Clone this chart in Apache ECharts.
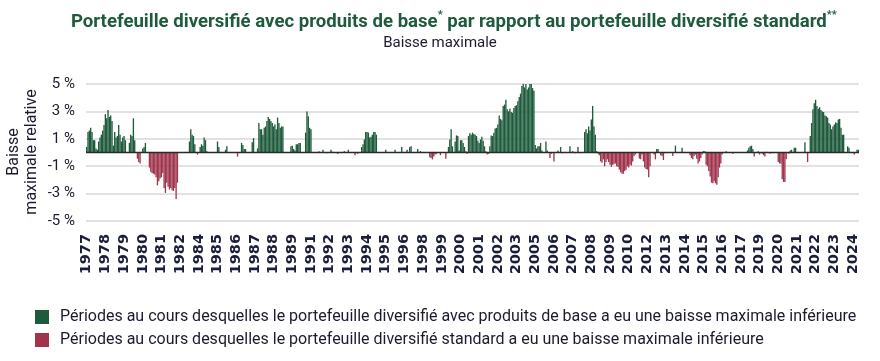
<!DOCTYPE html>
<html><head><meta charset="utf-8">
<script src="https://cdn.jsdelivr.net/npm/echarts@6/dist/echarts.min.js"></script>
<style>html,body{margin:0;padding:0;background:#fff}#c{width:880px;height:361px}</style>
</head><body><div id="c"></div>
<script>
// Monthly relative maximum drawdown (%), starting January 1977
const startYear = 1977;
const v1977_1984 = [
  0.4,1.5,1.6,1.8,1.5,0.9,0.9,0.3,0.2,0.8,1.1,1.3,
  1.6,2.0,2.8,2.5,3.1,2.6,2.7,2.3,0.5,1.5,1.1,1.2,
  2.0,1.3,0.8,1.1,1.2,0.9,0,0,0.7,1.3,1.2,2.5,
  0.9,0,-0.45,-0.7,-0.8,0,0.3,0.4,0.7,0,0,-1.1,
  -1.4,-1.5,-1.55,-1.6,-1.8,-2.4,-2.1,-1.9,-1.8,-1.5,-2.6,-2.95,
  -2.2,-2.5,-2.7,-2.6,-2.75,-2.8,-2.6,-3.4,-2.2,0,0,0,
  0,0,0,0,0,0.8,1.7,1.3,1.2,0.6,0,-0.15,
  0,0.4,0.6,0.5,1.1,0.9,0.1,0,0,0,0,0
];
const v1985_1992 = [
  0,0,0.8,0.4,0,0,0,0,0.2,0.45,0,0,
  0,0,0,0,0,-0.3,0,0,0.7,0.55,0.25,0.25,
  0,0,0,0,0.75,1.05,0,0,0.3,2.15,1.7,1.7,
  1.3,1.8,1.9,2.3,2.6,2.45,2.3,2.15,1.9,2.05,1.7,2.55,
  2.15,1.8,1.9,1.9,0,0,0,0,0,0.45,0.5,0.25,
  0.15,0.6,0.6,0.7,0.7,0,0,0,1.45,3.0,2.65,1.8,
  1.7,0,0,0,0,0,0.1,0,0,0.2,0,0,
  -0.05,0,0,0.2,0.05,0,0,0,-0.1,0,0,0
];
const v1993_2000 = [
  0,0.1,0,0,0.2,0,0,0,0,-0.2,0,-0.1,
  0,0,0.4,0.6,0.95,1.5,1.5,1.45,1.1,1.15,1.3,1.5,
  1.5,1.3,0,0,0,0,0,0,0.2,0,0,0,
  0,0,0,0.2,0,0,0,0,0.4,0,0,0,
  0.2,0,0.4,0.45,0,0,0,0,0.25,0,0.1,0,
  0,0,0,0,0,-0.35,-0.4,-0.5,-0.3,-0.15,-0.1,0,
  0,-0.2,0,0,0,-0.45,0,0.4,0.95,1.7,0.45,0,
  0.8,1.25,1.2,0.15,0.9,0.9,0.7,0.4,0.1,-0.1,1.2,1.4
];
const v2001_2008 = [
  1.3,1.45,1.35,1.3,1.2,0.85,0.7,0.95,1.15,0.85,0.45,0.1,
  -0.15,-0.1,0.45,1.25,1.2,1.45,1.75,1.8,2.05,2.7,2.45,2.35,
  3.4,3.5,3.85,3.15,3.0,3.2,2.95,2.9,3.25,3.4,3.45,3.75,
  4.05,4.3,4.85,5.05,4.75,5.0,4.6,4.75,5.1,5.2,4.7,4.5,
  0.55,0.3,0.45,0.45,0.7,0.15,0,0,0.8,0.15,0,-0.4,
  -0.1,0,-0.65,0,0,0.15,0,0.4,-0.05,0,0,0,
  0,0,0.45,0,0.1,0,-0.05,0,0.4,0,-0.05,0,
  0,1.5,1.7,1.4,1.9,1.6,2.4,3.4,1.9,1.3,0.1,-0.1
];
const v2009_2016 = [
  -0.2,-0.65,-0.75,-0.5,-1.0,-0.7,-0.5,-0.7,-0.9,-1.05,-0.9,-0.85,
  -0.8,-1.0,-1.05,-1.25,-1.45,-1.55,-1.55,-1.35,-1.25,-1.0,-1.1,-0.9,
  -0.95,-0.65,-0.25,-0.15,0,0,-0.45,-0.5,-0.15,-0.65,-1.1,-1.2,
  -1.25,-1.8,-1.0,0,0,-0.15,-0.5,0.25,0.25,0,-0.2,-0.25,
  -0.55,-0.05,0,-0.05,0,0,0,-0.25,0,0.5,0,0,
  0,0,0.35,0,0,0,0,0,-0.2,-0.4,-0.5,-0.25,
  -0.15,-0.45,-0.8,-0.65,-0.4,-0.15,0.1,0.1,-0.9,-1.0,-1.35,-1.75,
  -2.2,-2.25,-2.1,-2.25,-2.35,-1.8,-1.1,-0.8,-0.15,0,0,0.1
];
const v2017_2025 = [
  0,0,0,0,-0.1,0,0,0,0,0,0,0,
  0,0,0,0.15,0.35,0.45,0.5,0.25,-0.3,0,0,0.1,
  -0.15,0,-0.1,-0.2,-0.3,0.05,0,0,-0.1,0,-0.05,0,
  0,0,-0.7,-0.8,-0.8,-1.95,-2.15,-2.15,-0.5,0,-0.1,0.15,
  0.2,0,0.35,0.35,0,0,0,0,0,0,0.75,0,
  -0.7,0,1.2,2.15,3.15,3.6,3.85,3.4,3.2,3.3,3.1,3.0,
  2.95,2.7,2.65,2.55,2.15,2.05,1.7,1.9,2.05,2.2,2.15,2.4,
  2.45,1.8,1.3,1.3,0,0,0.45,0.35,0,0,0,-0.15,
  0,0.2,0.2
];
const values = [].concat(v1977_1984, v1985_1992, v1993_2000, v2001_2008, v2009_2016, v2017_2025);
const categories = values.map((v, i) => (startYear + Math.floor(i / 12)) + '-' + String(i % 12 + 1).padStart(2, '0'));
const yMin = -5, yMax = 5, yStep = 2;
const yAxisTitle = 'Baisse\nmaximale relative';
const seriesNames = [
  'Périodes au cours desquelles le portefeuille diversifié avec produits de base a eu une baisse maximale inférieure',
  'Périodes au cours desquelles le portefeuille diversifié standard a eu une baisse maximale inférieure'
];
const GREEN = '#1e5b3c', RED = '#a0344c', DARK = '#1b1b2f';
const greenData = values.map(v => v > 0 ? v : '-');
const redData = values.map(v => v < 0 ? v : '-');

const chart = echarts.init(document.getElementById('c'), null, {renderer: 'canvas'});
chart.setOption({
  animation: false,
  textStyle: {fontFamily: 'Roboto'},
  title: [{
    text: '{t|Portefeuille diversifié avec produits de base}{s|*}{t| par rapport au portefeuille diversifié standard}{s|**}',
    left: 66, top: 5,
    textStyle: {rich: {
      t: {fontSize: 18.6, fontWeight: 'bold', color: GREEN, fontFamily: 'Roboto', lineHeight: 24},
      s: {fontSize: 11, fontWeight: 'bold', color: GREEN, fontFamily: 'Roboto', verticalAlign: 'top', lineHeight: 24}
    }}
  }, {
    text: 'Baisse maximale', left: 'center', top: 31,
    textStyle: {fontSize: 15, fontWeight: 'normal', color: DARK, fontFamily: 'Roboto'}
  }],
  graphic: [{
    type: 'text', x: 23, y: 152, rotation: Math.PI / 2, silent: true,
    style: {text: yAxisTitle, font: '16px Roboto', fill: DARK, align: 'center', verticalAlign: 'middle', lineHeight: 18}
  }],
  legend: {
    orient: 'vertical', left: 35, top: 309, padding: 0, itemWidth: 14, itemHeight: 14, itemGap: 7,
    icon: 'rect', selectedMode: false,
    textStyle: {fontSize: 16, color: DARK, fontFamily: 'Roboto', padding: [0, 0, 0, 6]},
    data: seriesNames
  },
  grid: {left: 86, right: 21, top: 84, bottom: 140, containLabel: false, outerBoundsMode: 'none'},
  xAxis: {
    type: 'category', data: categories, boundaryGap: true,
    axisLine: {show: false, onZero: false}, axisTick: {show: false},
    axisLabel: {interval: 13, rotate: 90, margin: 13, fontSize: 14.5, fontWeight: 'bold', color: '#1b1e3a',
      fontFamily: 'DejaVu Sans', formatter: v => v.slice(0, 4)},
    splitLine: {show: false}
  },
  yAxis: {
    type: 'value', min: yMin, max: yMax, interval: yStep,
    axisLine: {show: false}, axisTick: {show: false},
    axisLabel: {formatter: v => v + ' %', fontSize: 15, color: DARK, margin: 11, fontFamily: 'Roboto'},
    splitLine: {lineStyle: {color: '#d9d9d9', width: 1.5}}
  },
  series: [{
    name: seriesNames[0], type: 'bar', data: greenData, barGap: '-100%', barCategoryGap: '0%',
    itemStyle: {color: GREEN},
    markLine: {silent: true, symbol: 'none', label: {show: false}, animation: false,
      lineStyle: {color: '#2a2a2a', width: 1.3, type: 'solid'}, data: [{yAxis: 0}]}
  }, {
    name: seriesNames[1], type: 'bar', data: redData, barGap: '-100%', barCategoryGap: '0%',
    itemStyle: {color: RED}
  }]
});
</script></body></html>
